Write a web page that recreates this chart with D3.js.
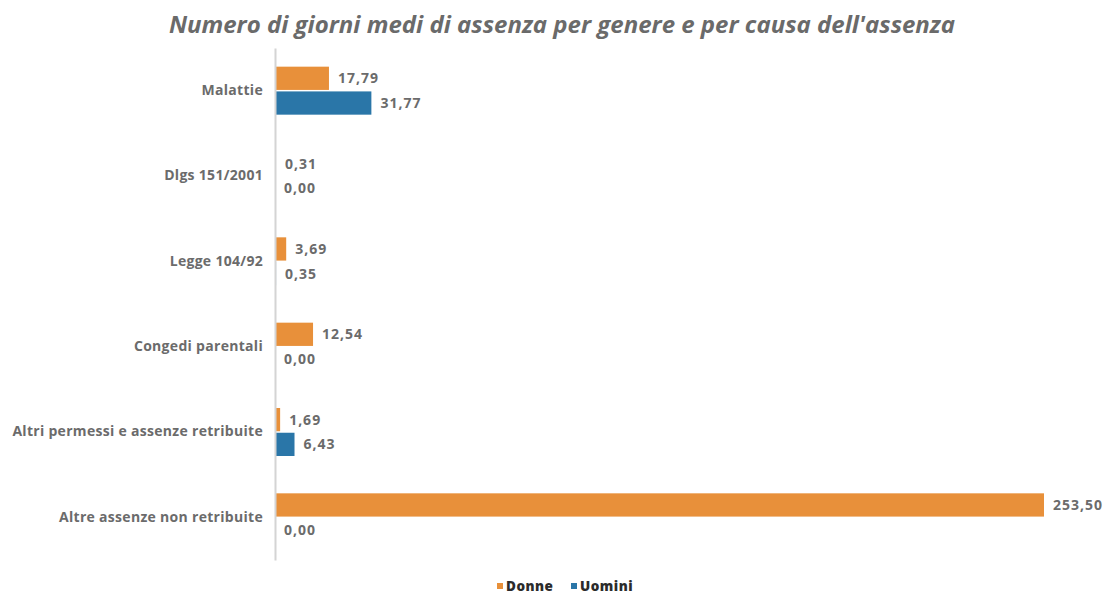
<!DOCTYPE html>
<html>
<head>
<meta charset="utf-8">
<script src="https://cdn.jsdelivr.net/npm/d3@7"></script>
<style>
  html, body { margin: 0; padding: 0; background: #fff; }
  svg { display: block; }
  text { font-family: "Open Sans", Lato, sans-serif; }
</style>
</head>
<body>
<svg id="chart" width="1107" height="595"></svg>
<script>
// Average days of absence by cause, split by gender
const categories = [
  "Malattie",
  "Dlgs 151/2001",
  "Legge 104/92",
  "Congedi parentali",
  "Altri permessi e assenze retribuite",
  "Altre assenze non retribuite"
];
const seriesNames = ["Donne", "Uomini"];
const donne  = [17.79, 0.31, 3.69, 12.54, 1.69, 253.50];
const uomini = [31.77, 0.00, 0.35, 0.00, 6.43, 0.00];
const colors = ["#E8903A", "#2A76A8"];

const rows = categories.map((c, i) => ({ cat: c, values: [donne[i], uomini[i]] }));

const svg = d3.select("#chart");
const margin = { left: 275, right: 63, top: 48, bottom: 35 };
const W = 1107, H = 595;

const fmt = v => d3.format(".2f")(v).replace(".", ",");

const x = d3.scaleLinear()
  .domain([0, 253.5])
  .range([margin.left, 1044]);

const y0 = d3.scaleBand()
  .domain(categories)
  .range([margin.top, H - margin.bottom]);

const y1 = d3.scaleBand()
  .domain(seriesNames)
  .range([0, 48])
  .paddingInner(0.06);

// Title
svg.append("text")
  .attr("x", 562)
  .attr("y", 33)
  .attr("text-anchor", "middle")
  .attr("font-size", 24)
  .attr("font-weight", 700)
  .attr("font-style", "italic")
  .attr("fill", "#6a6a6a")
  .text("Numero di giorni medi di assenza per genere e per causa dell'assenza");

// Bars and value labels
const groups = svg.append("g").selectAll("g")
  .data(rows)
  .join("g")
  .attr("transform", d => `translate(0,${y0(d.cat) + y0.bandwidth() / 2 - 24})`);

groups.selectAll("rect")
  .data(d => d.values.map((v, j) => ({ v, s: seriesNames[j], j })))
  .join("rect")
  .attr("x", x(0))
  .attr("y", d => y1(d.s))
  .attr("width", d => x(d.v) - x(0))
  .attr("height", y1.bandwidth())
  .attr("fill", d => colors[d.j]);

groups.selectAll("text.val")
  .data(d => d.values.map((v, j) => ({ v, s: seriesNames[j], j })))
  .join("text")
  .attr("class", "val")
  .attr("x", d => x(d.v) + 9)
  .attr("y", d => y1(d.s) + y1.bandwidth() / 2)
  .attr("dy", "0.35em")
  .attr("font-size", 14)
  .attr("font-weight", 700)
  .attr("letter-spacing", 1)
  .attr("fill", "#6b6b6b")
  .text(d => fmt(d.v));

// Category axis
const yAxis = d3.axisLeft(y0).tickSize(0).tickPadding(12);
const ax = svg.append("g")
  .attr("transform", `translate(${margin.left},0)`)
  .call(yAxis);
ax.select(".domain")
  .attr("stroke", "#d4d4d4")
  .attr("stroke-width", 2);
ax.selectAll(".tick text")
  .attr("font-family", "'Open Sans', Lato, sans-serif")
  .attr("font-size", 14)
  .attr("font-weight", 700)
  .attr("letter-spacing", 0.3)
  .attr("fill", "#6b6b6b");

// Legend
const legend = svg.append("g").attr("transform", "translate(497,586)");
const items = [
  { name: seriesNames[0], c: colors[0], x: 0 },
  { name: seriesNames[1], c: colors[1], x: 74 }
];
items.forEach(it => {
  legend.append("rect")
    .attr("x", it.x).attr("y", -3)
    .attr("width", 6).attr("height", 6)
    .attr("fill", it.c);
  legend.append("text")
    .attr("x", it.x + 9).attr("y", 0)
    .attr("dy", "0.35em")
    .attr("font-size", 13.5)
    .attr("font-weight", 800)
    .attr("letter-spacing", 0.5)
    .attr("fill", "#2b2b2b")
    .text(it.name);
});
</script>
</body>
</html>
